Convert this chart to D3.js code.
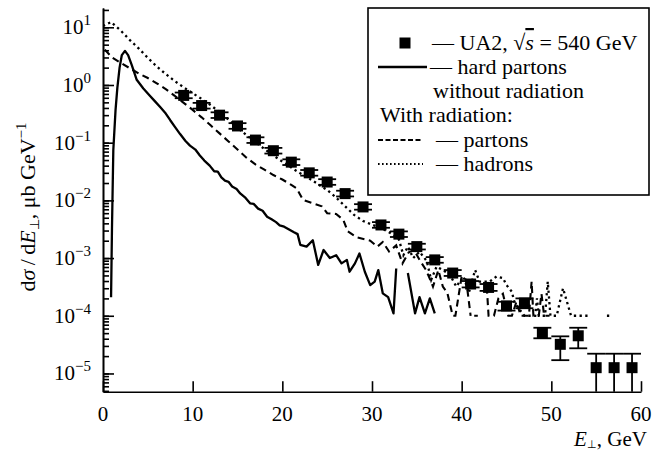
<!DOCTYPE html>
<meta charset="utf-8">
<script src="https://d3js.org/d3.v7.min.js"></script>
<style>
  body { margin: 0; background: #fff; }
  svg { font-family: "Liberation Serif", "Times New Roman", serif; }
</style>
<div id="chart"></div>
<script>
// UA2 data, sqrt(s) = 540 GeV (dsigma/dE, ub/GeV)
const ua2X  = [9, 11, 13, 15, 17, 19, 21, 23, 25, 27, 29, 31, 33, 35, 37, 39, 41, 43, 45, 47, 49, 51, 53, 55, 57, 59];
const ua2Y  = [0.66, 0.44, 0.30, 0.195, 0.111, 0.0726, 0.046, 0.030, 0.0208, 0.0131, 0.0077, 0.00375, 0.0026, 0.00158,
               0.00093, 0.00055, 0.000355, 0.00031, 0.000148, 0.000166, 5.0e-5, 3.2e-5, 4.5e-5, 1.26e-5, 1.26e-5, 1.26e-5];
const ua2Lo = [0.59, 0.39, 0.268, 0.174, 0.099, 0.0648, 0.041, 0.0268, 0.0186, 0.0117, 0.0069, 0.00335, 0.00232, 0.00141,
               0.00083, 0.00049, 0.00031, 0.00027, 0.000123, 0.000135, 4.07e-5, 1.7e-5, 2.73e-5, 0, 0, 0];
const ua2Hi = [0.74, 0.49, 0.336, 0.218, 0.124, 0.0813, 0.0515, 0.0336, 0.0233, 0.0147, 0.0086, 0.0042, 0.0029, 0.00177,
               0.00104, 0.00062, 0.00040, 0.000355, 0.000175, 0.0002, 6.2e-5, 4.4e-5, 6.2e-5, 2.2e-5, 2.2e-5, 2.2e-5];

// hard partons without radiation (solid)
const hardPartons = [
  [0.9, 2.1e-4], [1.0, 3.2e-3], [1.15, 0.074], [1.4, 0.37], [1.6, 0.89], [1.85, 2.0], [2.1, 3.3], [2.45, 3.9],
  [2.8, 3.3], [3.2, 2.24], [3.76, 1.23], [4.5, 0.87], [5.2, 0.66], [5.8, 0.52], [6.4, 0.41], [7.0, 0.32],
  [7.5, 0.245], [8.0, 0.19], [8.6, 0.141], [9.2, 0.107], [9.7, 0.089], [10.3, 0.076], [10.8, 0.060],
  [11.3, 0.049], [11.9, 0.040], [12.4, 0.032], [12.8, 0.0316], [13.2, 0.025], [13.6, 0.022], [14.0, 0.021],
  [14.4, 0.0174], [14.9, 0.0158], [15.3, 0.0132], [15.9, 0.011], [16.4, 0.0089], [16.8, 0.0087],
  [17.3, 0.0072], [17.8, 0.0066], [18.3, 0.0052], [18.8, 0.0047], [19.3, 0.0042], [19.7, 0.0037],
  [20.2, 0.0035], [20.8, 0.0031], [21.3, 0.0028], [21.7, 0.0026], [22.0, 0.0017], [22.7, 0.00158],
  [23.4, 0.00204], [24.0, 0.00076], [24.6, 0.00138], [25.3, 0.0010], [26.0, 0.00112], [26.6, 0.00081],
  [27.2, 0.00093], [27.5, 0.00058], [28.1, 0.00081], [28.6, 0.0012], [29.2, 0.00058], [29.8, 0.00034],
  [30.3, 0.00039], [30.7, 0.00062], [31.2, 0.000245], [31.8, 0.00021], [32.4, 0.00011], [32.7, 0.00066],
  [33.3, null],
  [34.0, 0.00055], [34.8, 0.00011], [35.3, 0.00021], [35.9, 0.00011], [36.45, 0.0002], [37.0, 0.00011]
];

// with radiation: partons (dashed)
const partonsRad = [
  [0.2, 4.1], [1, 3.0], [2, 2.4], [3, 1.95], [4, 1.58], [5, 1.32], [6, 1.07], [7, 0.85], [8, 0.65], [9, 0.49],
  [10, 0.37], [11, 0.275], [12, 0.20], [13, 0.145], [14, 0.105], [15, 0.076], [16, 0.055], [17, 0.042],
  [18, 0.034], [19, 0.0275], [20, 0.023], [21, 0.0186], [21.6, 0.0162], [22.3, 0.0102], [23.4, 0.0089],
  [24.4, 0.0079], [25.0, 0.006], [26.0, 0.0058], [26.8, 0.0046], [27.3, 0.0029], [28.3, 0.0023],
  [29.8, 0.002], [30.6, 0.00158], [31.2, 0.0019], [31.9, 0.0013], [32.7, 0.00166], [33.4, 0.00081],
  [34.1, 0.00126], [34.7, 0.00138], [35.3, 0.00093], [36.0, 0.00063], [36.5, 0.00042], [36.8, 0.00032],
  [37.4, 0.00062], [37.9, 0.00032], [38.4, 0.00025], [39.0, 0.0001], [39.3, 0.0001], [40.0, 0.00048],
  [40.5, 0.00042], [41.0, 0.0001], [41.1, null], [41.4, 0.0001], [41.8, 0.0001], [42.0, null],
  [42.8, 0.00032], [43.0, 0.0001], [43.6, 0.0001], [44.1, 0.0002], [44.6, 0.00024], [45.2, 0.0001],
  [45.6, 0.0001], [46.1, 0.000174], [46.6, 0.0001], [47.5, 0.0001], [47.8, 0.00039], [48.0, 0.0001],
  [48.6, 0.0001], [48.9, 0.00024], [49.2, 0.0001], [49.8, 0.0001]
];

// with radiation: hadrons (dotted)
const hadronsRad = [
  [0.0, 10.5], [0.9, 12.3], [2, 8.7], [3, 6.0], [4, 4.27], [5, 2.95], [6, 2.09], [7, 1.55], [8, 1.17],
  [9, 0.91], [10, 0.72], [11, 0.575], [12, 0.447], [13, 0.339], [14, 0.251], [15, 0.182], [16, 0.135],
  [17, 0.102], [18, 0.078], [19, 0.060], [20, 0.047], [21, 0.037], [22, 0.0295], [23, 0.024], [24, 0.019],
  [25, 0.0151], [26, 0.0112], [27, 0.0079], [28, 0.0056], [29, 0.0044], [30, 0.0038], [31, 0.0033],
  [32, 0.00275], [33, 0.0021], [33.5, 0.00112], [34.0, 0.00158], [34.6, 0.001], [35.3, 0.00129],
  [36.1, 0.00089], [36.6, 0.00042], [37.2, 0.00071], [37.9, 0.00062], [38.7, 0.00051], [39.4, 0.00032],
  [40.2, 0.00048], [40.8, 0.00025], [41.5, 0.00062], [42.0, 0.00039], [43.1, 0.00039], [43.9, 0.00048],
  [44.6, 0.00045], [45.0, 0.00034], [45.6, 0.00026], [45.9, 0.000166], [46.5, 0.000126], [47.0, 0.0001],
  [48.2, 0.0001], [48.4, 0.0002], [48.6, 0.0001], [49.3, 0.0001], [49.6, 0.00039], [49.9, 0.0001],
  [50.6, 0.0001], [51.3, 0.0003], [52.2, 0.0001], [54.3, 0.0001], [55.0, null], [56.2, 0.0001], [56.5, 0.0001]
];

const xTicks = [0, 10, 20, 30, 40, 50, 60];
const yExponents = [1, 0, -1, -2, -3, -4, -5];

// layout
const margin = {top: 8, right: 23, bottom: 58.3, left: 103},
    width = 664 - margin.left - margin.right,
    height = 450 - margin.top - margin.bottom;

const svg = d3.select("#chart")
  .append("svg")
    .attr("width", 664)
    .attr("height", 450);

const g = svg.append("g")
    .attr("transform", `translate(${margin.left},${margin.top})`);

const x = d3.scaleLinear().domain([0, 60]).range([0, width]);
const y = d3.scaleLog().domain([4.83e-6, 21.6]).range([height, 0]);

g.append("clipPath").attr("id", "clip")
  .append("rect").attr("width", width).attr("height", height);

// y axis: major + minor ticks, pointing inward
g.append("g")
  .call(d3.axisLeft(y).tickValues(y.ticks()).tickSize(-6).tickSizeOuter(0).tickFormat(""))
  .call(a => a.selectAll("line,path").attr("stroke", "#000").attr("stroke-width", 1.6));
g.append("g")
  .call(d3.axisLeft(y).tickValues(yExponents.map(e => Math.pow(10, e))).tickSize(-11).tickSizeOuter(0).tickFormat(""))
  .call(a => a.selectAll("line,path").attr("stroke", "#000").attr("stroke-width", 1.6));

// x axis
g.append("g")
  .attr("transform", `translate(0,${height})`)
  .call(d3.axisBottom(x).tickValues(xTicks).tickSize(-10.5).tickSizeOuter(0).tickFormat(""))
  .call(a => a.selectAll("line,path").attr("stroke", "#000").attr("stroke-width", 1.6));

// tick labels
g.append("g").selectAll("text")
  .data(xTicks)
  .join("text")
    .attr("x", d => x(d))
    .attr("y", height + 29)
    .attr("text-anchor", "middle")
    .attr("font-size", 21)
    .text(d => d);

const yLab = g.append("g").selectAll("text")
  .data(yExponents)
  .join("text")
    .attr("x", -12)
    .attr("y", d => y(Math.pow(10, d)) + 7)
    .attr("text-anchor", "end")
    .attr("font-size", 21);
yLab.append("tspan").text("10");
yLab.append("tspan").attr("font-size", 15).attr("dy", -9).text(d => d < 0 ? "\u2212" + (-d) : d);

// axis titles
const xt = svg.append("text")
  .attr("x", 647).attr("y", 446)
  .attr("text-anchor", "end")
  .attr("font-size", 21);
xt.append("tspan").attr("font-style", "italic").text("E");
xt.append("tspan").attr("font-size", 11).attr("dy", 2).text("\u22a5");
xt.append("tspan").attr("dy", -2).text(", GeV");

const yt = svg.append("text")
  .attr("transform", "translate(35,207) rotate(-90)")
  .attr("text-anchor", "middle")
  .attr("font-size", 22);
yt.append("tspan").text("d");
yt.append("tspan").attr("font-style", "italic").text("\u03c3");
yt.append("tspan").text("\u2009/\u2009d");
yt.append("tspan").attr("font-style", "italic").text("E");
yt.append("tspan").attr("font-size", 13).attr("dy", 4).text("\u22a5");
yt.append("tspan").attr("dy", -4).text(", \u03bcb GeV");
yt.append("tspan").attr("font-size", 15).attr("dy", -9).text("\u22121");

// curves
const line = d3.line()
  .defined(d => d[1] != null)
  .x(d => x(d[0]))
  .y(d => y(d[1]));

const plot = g.append("g").attr("clip-path", "url(#clip)");

plot.append("path").datum(hardPartons)
  .attr("fill", "none").attr("stroke", "#000").attr("stroke-width", 2.3)
  .attr("stroke-linejoin", "round")
  .attr("d", line);

plot.append("path").datum(partonsRad)
  .attr("fill", "none").attr("stroke", "#000").attr("stroke-width", 2.1)
  .attr("stroke-dasharray", "7,4.5")
  .attr("d", line);

plot.append("path").datum(hadronsRad)
  .attr("fill", "none").attr("stroke", "#000").attr("stroke-width", 2.3)
  .attr("stroke-dasharray", "2.3,3.4")
  .attr("d", line);

// UA2 points with error bars
const ua2 = ua2X.map((v, i) => ({x: v, y: ua2Y[i], lo: ua2Lo[i], hi: ua2Hi[i]}));
const yOf = v => v > 0 ? y(v) : height;

const pts = g.append("g").selectAll("g")
  .data(ua2)
  .join("g");
pts.append("line")
  .attr("x1", d => x(d.x)).attr("x2", d => x(d.x))
  .attr("y1", d => yOf(d.lo)).attr("y2", d => yOf(d.hi))
  .attr("stroke", "#000").attr("stroke-width", 1.8);
pts.append("line")
  .attr("x1", d => x(d.x - 1)).attr("x2", d => x(d.x + 1))
  .attr("y1", d => yOf(d.hi)).attr("y2", d => yOf(d.hi))
  .attr("stroke", "#000").attr("stroke-width", 1.8);
pts.filter(d => d.lo > 0).append("line")
  .attr("x1", d => x(d.x - 1)).attr("x2", d => x(d.x + 1))
  .attr("y1", d => yOf(d.lo)).attr("y2", d => yOf(d.lo))
  .attr("stroke", "#000").attr("stroke-width", 1.8);
pts.append("rect")
  .attr("x", d => x(d.x) - 5.5).attr("y", d => y(d.y) - 5.5)
  .attr("width", 11).attr("height", 11)
  .attr("fill", "#000");

// legend
const leg = svg.append("g");
leg.append("rect")
  .attr("x", 368).attr("y", 8).attr("width", 281).attr("height", 187)
  .attr("fill", "#fff").attr("stroke", "#000").attr("stroke-width", 1.6);

leg.append("rect").attr("x", 399.5).attr("y", 37.5).attr("width", 11).attr("height", 11).attr("fill", "#000");
const t1 = leg.append("text").attr("x", 432).attr("y", 50).attr("font-size", 22);
t1.append("tspan").text("\u2014 UA2, \u221a");
t1.append("tspan").attr("font-style", "italic").style("text-decoration", "overline").text("s");
t1.append("tspan").text(" = 540 GeV");

leg.append("line").attr("x1", 378).attr("x2", 427).attr("y1", 67).attr("y2", 67)
  .attr("stroke", "#000").attr("stroke-width", 2.3);
leg.append("text").attr("x", 430).attr("y", 74).attr("font-size", 22).text("\u2014 hard partons");
leg.append("text").attr("x", 433).attr("y", 98).attr("font-size", 22).text("without radiation");
leg.append("text").attr("x", 380).attr("y", 122).attr("font-size", 22).text("With radiation:");

leg.append("line").attr("x1", 378).attr("x2", 422).attr("y1", 140).attr("y2", 140)
  .attr("stroke", "#000").attr("stroke-width", 2.1).attr("stroke-dasharray", "5,2.5");
leg.append("text").attr("x", 436).attr("y", 147).attr("font-size", 22).text("\u2014 partons");

leg.append("line").attr("x1", 378).attr("x2", 423).attr("y1", 164).attr("y2", 164)
  .attr("stroke", "#000").attr("stroke-width", 2.1).attr("stroke-dasharray", "1.6,2.4");
leg.append("text").attr("x", 436).attr("y", 171).attr("font-size", 22).text("\u2014 hadrons");
</script>
